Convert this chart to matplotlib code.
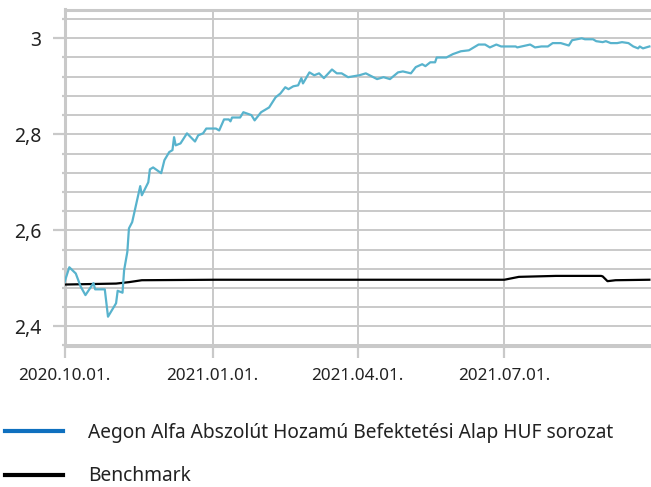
import matplotlib
matplotlib.use("Agg")
import matplotlib.pyplot as plt
from matplotlib.ticker import MultipleLocator, FuncFormatter
from matplotlib.lines import Line2D
import pandas as pd

plt.rcParams['font.family'] = ['Noto Sans', 'DejaVu Sans']

fund_dates = [
    "2020-10-01", "2020-10-04", "2020-10-08", "2020-10-11", "2020-10-14", "2020-10-19",
    "2020-10-20", "2020-10-26", "2020-10-28", "2020-11-02", "2020-11-03", "2020-11-06",
    "2020-11-07", "2020-11-09", "2020-11-10", "2020-11-12", "2020-11-17", "2020-11-18",
    "2020-11-22", "2020-11-23", "2020-11-25", "2020-11-30", "2020-12-02", "2020-12-05",
    "2020-12-07", "2020-12-08", "2020-12-09", "2020-12-12", "2020-12-16", "2020-12-21",
    "2020-12-23", "2020-12-26", "2020-12-28", "2021-01-03", "2021-01-05", "2021-01-08",
    "2021-01-11", "2021-01-12", "2021-01-13", "2021-01-18", "2021-01-20", "2021-01-25",
    "2021-01-27", "2021-01-31", "2021-02-05", "2021-02-09", "2021-02-12", "2021-02-15",
    "2021-02-17", "2021-02-20", "2021-02-23", "2021-02-25", "2021-02-26", "2021-03-02",
    "2021-03-05", "2021-03-08", "2021-03-11", "2021-03-16", "2021-03-19", "2021-03-22",
    "2021-03-26", "2021-04-02", "2021-04-06", "2021-04-13", "2021-04-17", "2021-04-21",
    "2021-04-26", "2021-04-29", "2021-05-04", "2021-05-07", "2021-05-11", "2021-05-13",
    "2021-05-16", "2021-05-19", "2021-05-20", "2021-05-26", "2021-05-30", "2021-06-04",
    "2021-06-09", "2021-06-15", "2021-06-19", "2021-06-22", "2021-06-26", "2021-06-29",
    "2021-07-08", "2021-07-09", "2021-07-17", "2021-07-20", "2021-07-24", "2021-07-28",
    "2021-07-31", "2021-08-05", "2021-08-10", "2021-08-12", "2021-08-18", "2021-08-20",
    "2021-08-25", "2021-08-27", "2021-08-31", "2021-09-02", "2021-09-05", "2021-09-09",
    "2021-09-12", "2021-09-16", "2021-09-19", "2021-09-22", "2021-09-23", "2021-09-25",
    "2021-09-29",
]
fund_values = [
    2.492, 2.523, 2.510, 2.483, 2.465, 2.490,
    2.477, 2.477, 2.420, 2.448, 2.474, 2.470,
    2.517, 2.555, 2.604, 2.617, 2.692, 2.673,
    2.700, 2.727, 2.731, 2.719, 2.746, 2.763,
    2.767, 2.794, 2.777, 2.781, 2.802, 2.785,
    2.798, 2.802, 2.812, 2.812, 2.808, 2.831,
    2.831, 2.827, 2.835, 2.835, 2.846, 2.840,
    2.829, 2.846, 2.856, 2.877, 2.885, 2.898,
    2.894, 2.900, 2.902, 2.917, 2.906, 2.929,
    2.923, 2.927, 2.917, 2.935, 2.927, 2.927,
    2.919, 2.923, 2.927, 2.915, 2.919, 2.915,
    2.929, 2.931, 2.927, 2.940, 2.946, 2.942,
    2.950, 2.950, 2.960, 2.960, 2.967, 2.973,
    2.975, 2.987, 2.987, 2.981, 2.987, 2.983,
    2.983, 2.981, 2.987, 2.981, 2.983, 2.983,
    2.990, 2.990, 2.985, 2.996, 3.000, 2.998,
    2.998, 2.994, 2.992, 2.994, 2.990, 2.990,
    2.992, 2.990, 2.983, 2.979, 2.983, 2.979,
    2.983,
]

bench_dates = [
    "2020-10-01", "2020-11-02", "2020-11-10", "2020-11-18", "2021-01-03", "2021-05-09",
    "2021-07-01", "2021-07-10", "2021-08-02", "2021-08-30", "2021-08-31", "2021-09-03",
    "2021-09-08", "2021-09-29",
]
bench_values = [
    2.487, 2.489, 2.492, 2.496, 2.497, 2.497,
    2.497, 2.503, 2.505, 2.505, 2.504, 2.494,
    2.496, 2.497,
]

x_ticks = ["2020-10-01", "2021-01-01", "2021-04-01", "2021-07-01"]
x_tick_labels = ["2020.10.01.", "2021.01.01.", "2021.04.01.", "2021.07.01."]

fund_label = "Aegon Alfa Abszolút Hozamú Befektetési Alap HUF sorozat"
bench_label = "Benchmark"

grid_c = "#c9c9c9"

fig = plt.figure(figsize=(6.51, 4.87), dpi=100)
ax = fig.add_axes([64.5 / 651, 1 - 345.5 / 487, 1 - 64.5 / 651, (345.5 - 9.5) / 487])

fd = pd.to_datetime(fund_dates)
bd = pd.to_datetime(bench_dates)

ax.plot(bd, bench_values, color="black", lw=1.6, zorder=3)
ax.plot(fd, fund_values, color="#58b3cd", lw=1.6, zorder=4)

ax.set_xlim(pd.Timestamp("2020-10-01"), pd.Timestamp("2021-09-30"))
ax.set_ylim(2.36, 3.06)

ax.set_xticks(pd.to_datetime(x_ticks))
ax.set_xticklabels(x_tick_labels)
ax.yaxis.set_major_locator(MultipleLocator(0.2))
ax.yaxis.set_minor_locator(MultipleLocator(0.04))
ax.yaxis.set_major_formatter(FuncFormatter(
    lambda v, p: (f"{v:.1f}".rstrip("0").rstrip(".")).replace(".", ",")))

ax.grid(True, which="both", axis="y", color=grid_c, lw=1.4, zorder=1)
ax.grid(True, which="major", axis="x", color=grid_c, lw=1.4, zorder=1)

for s in ["left", "bottom", "top"]:
    ax.spines[s].set_color(grid_c)
    ax.spines[s].set_linewidth(2.2)
ax.spines["right"].set_visible(False)

ax.tick_params(axis="y", which="major", length=8.5, width=1.6, color=grid_c,
               labelsize=14, pad=8, labelcolor="#222222")
ax.tick_params(axis="y", which="minor", length=2.5, width=1.6, color=grid_c)
ax.tick_params(axis="x", which="major", length=8.5, width=1.6, color=grid_c,
               labelsize=12.3, pad=8, labelcolor="#222222")

handles = [Line2D([], [], color="#0f70bf", lw=3),
           Line2D([], [], color="black", lw=3)]
fig.legend(handles, [fund_label, bench_label], loc="upper left",
           bbox_to_anchor=(5 / 651, 1 - 423 / 487), frameon=False,
           fontsize=13.8, handlelength=3.0, handletextpad=1.35,
           labelspacing=1.22, borderpad=0, borderaxespad=0,
           labelcolor="#222222")

fig.savefig("out.png", dpi=100)
